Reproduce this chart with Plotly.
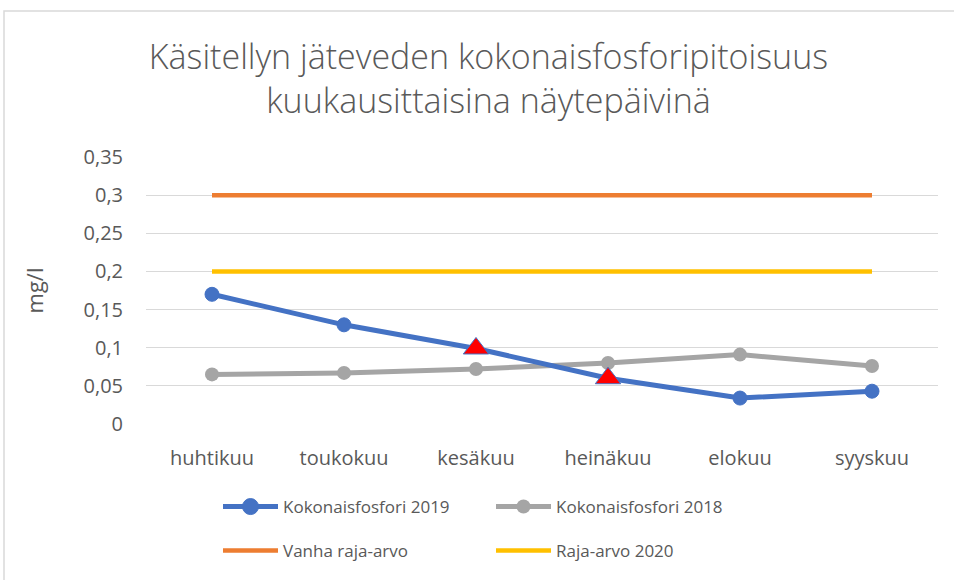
import plotly.graph_objects as go

categories = ["huhtikuu", "toukokuu", "kesäkuu", "heinäkuu", "elokuu", "syyskuu"]
p2019 = [0.170, 0.130, 0.099, 0.060, 0.034, 0.043]
p2018 = [0.065, 0.067, 0.072, 0.080, 0.091, 0.076]
vanha = [0.3, 0.3, 0.3, 0.3, 0.3, 0.3]
raja2020 = [0.2, 0.2, 0.2, 0.2, 0.2, 0.2]
ytick_vals = [0, 0.05, 0.1, 0.15, 0.2, 0.25, 0.3, 0.35]
ytick_text = ["0", "0,05", "0,1", "0,15", "0,2", "0,25", "0,3", "0,35"]

FONT = "Open Sans"
GREY = "#595959"

sym2019 = ["circle", "circle", "triangle-up", "triangle-up", "circle", "circle"]
col2019 = ["#4472C4", "#4472C4", "#FF0000", "#FF0000", "#4472C4", "#4472C4"]
size2019 = [14, 14, 22, 22, 14, 14]

fig = go.Figure()
fig.add_trace(go.Scatter(x=categories, y=vanha, name="Vanha raja-arvo", mode="lines",
                         line=dict(color="#ED7D31", width=4.5), legend="legend2", legendrank=3))
fig.add_trace(go.Scatter(x=categories, y=raja2020, name="Raja-arvo 2020", mode="lines",
                         line=dict(color="#FFC000", width=4.5), legend="legend2", legendrank=4))
fig.add_trace(go.Scatter(x=categories, y=p2018, name="Kokonaisfosfori 2018", mode="lines+markers",
                         line=dict(color="#A5A5A5", width=5),
                         marker=dict(color="#A5A5A5", size=14, opacity=1), legend="legend", legendrank=2))
fig.add_trace(go.Scatter(x=categories, y=p2019, name="Kokonaisfosfori 2019", mode="lines+markers",
                         line=dict(color="#4472C4", width=5),
                         marker=dict(color=col2019, symbol=sym2019, size=size2019, opacity=1),
                         legend="legend", legendrank=1))

PH = 267.0
PW = 792.0

fig.update_layout(
    width=954, height=580,
    margin=dict(l=146, r=16, t=157, b=156, autoexpand=False),
    paper_bgcolor="white", plot_bgcolor="white",
    separators=",.",
    font=dict(family=FONT, color=GREY, size=17),
    title=dict(text="Käsitellyn jäteveden kokonaisfosforipitoisuus<br>kuukausittaisina näytepäivinä",
               x=0.512, xanchor="center", y=1 - 69 / 580, yanchor="top", yref="container",
               font=dict(family=FONT, size=34, color=GREY, weight=300)),
    xaxis=dict(type="category", range=[-0.5, 5.5], showgrid=False, showline=False,
               ticks="", ticklabelstandoff=20, tickfont=dict(size=20, color=GREY)),
    yaxis=dict(range=[0, 0.35], tickvals=ytick_vals, ticktext=ytick_text,
               showgrid=True, gridcolor="#D9D9D9", gridwidth=1, zeroline=False,
               showline=False, ticks="", ticklabelstandoff=22,
               tickfont=dict(size=20, color=GREY),
               title=dict(text="mg/l", font=dict(size=22, color=GREY), standoff=33)),
    legend=dict(orientation="h", x=(218 - 146) / PW, xanchor="left",
                y=(424 - 507) / PH, yanchor="middle", itemwidth=55,
                entrywidth=203, entrywidthmode="pixels", font=dict(size=17, color=GREY),
                bgcolor="rgba(0,0,0,0)", traceorder="normal"),
    legend2=dict(orientation="h", x=(218 - 146) / PW, xanchor="left",
                 y=(424 - 551) / PH, yanchor="middle", itemwidth=55,
                 entrywidth=203, entrywidthmode="pixels", font=dict(size=17, color=GREY),
                 bgcolor="rgba(0,0,0,0)", traceorder="normal"),
    shapes=[dict(type="rect", xref="paper", yref="paper",
                 x0=(4 - 146) / PW, x1=1.05, y0=-0.62, y1=(424 - 11) / PH,
                 line=dict(color="#D9D9D9", width=1.5), fillcolor="rgba(0,0,0,0)", layer="below")],
)

fig.write_html("out.html", config={"displayModeBar": False},
               post_script="document.body.style.margin='0px';")
